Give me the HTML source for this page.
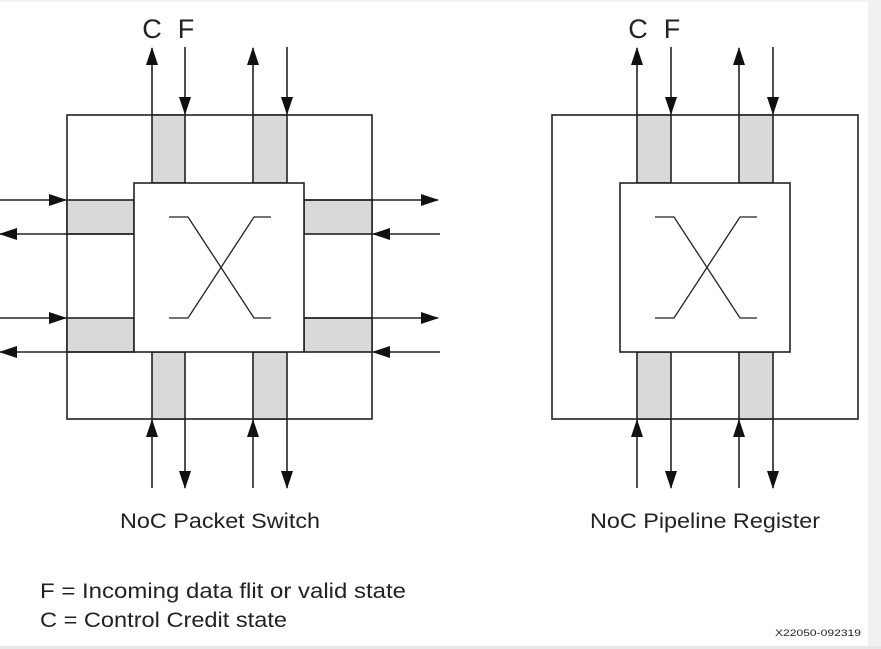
<!DOCTYPE html>
<html><head><meta charset="utf-8"><style>
html,body{margin:0;padding:0;background:#fff;}
body{width:881px;height:649px;overflow:hidden;}
svg{display:block;}
text{font-family:"Liberation Sans",sans-serif;fill:#222;}
</style></head><body>
<svg width="881" height="649" viewBox="0 0 881 649" xmlns="http://www.w3.org/2000/svg">
<defs>
<marker id="a" markerWidth="18" markerHeight="12" refX="17" refY="6" orient="auto" markerUnits="userSpaceOnUse">
<path d="M0,0 L18,6 L0,12 Z" fill="#111"/></marker>
</defs>
<rect x="0" y="0" width="881" height="649" fill="#fff"/>
<rect x="868" y="0" width="13" height="649" fill="#f1f1f1"/>
<rect x="0" y="646" width="881" height="3" fill="#e8e8e8"/>
<rect x="0" y="0" width="881" height="2" fill="#f1f1f1"/>

<g stroke="#222" stroke-width="1.6" fill="none">
<rect x="67" y="115" width="305" height="304"/>
<g fill="#d9d9d9">
<rect x="152" y="115" width="33" height="68"/>
<rect x="253" y="115" width="34" height="68"/>
<rect x="152" y="352" width="33" height="67"/>
<rect x="253" y="352" width="34" height="67"/>
<rect x="67" y="200" width="67" height="34"/>
<rect x="67" y="318" width="67" height="34"/>
<rect x="304" y="200" width="68" height="34"/>
<rect x="304" y="318" width="68" height="34"/>
</g>
<rect x="134" y="183" width="170" height="169" fill="#fff"/>
<polyline points="169,217 188,217 254,318 271,318" stroke-width="1.3"/>
<polyline points="169,318 188,318 254,217 271,217" stroke-width="1.3"/>
<line x1="152" y1="115" x2="152" y2="48" marker-end="url(#a)"/>
<line x1="185" y1="47" x2="185" y2="114" marker-end="url(#a)"/>
<line x1="253" y1="115" x2="253" y2="48" marker-end="url(#a)"/>
<line x1="287" y1="47" x2="287" y2="114" marker-end="url(#a)"/>
<line x1="152" y1="488" x2="152" y2="420" marker-end="url(#a)"/>
<line x1="185" y1="419" x2="185" y2="488" marker-end="url(#a)"/>
<line x1="253" y1="488" x2="253" y2="420" marker-end="url(#a)"/>
<line x1="287" y1="419" x2="287" y2="488" marker-end="url(#a)"/>
<line x1="0" y1="200" x2="66" y2="200" marker-end="url(#a)"/>
<line x1="134" y1="234" x2="0" y2="234" marker-end="url(#a)"/>
<line x1="0" y1="318" x2="66" y2="318" marker-end="url(#a)"/>
<line x1="134" y1="352" x2="0" y2="352" marker-end="url(#a)"/>
<line x1="304" y1="200" x2="438" y2="200" marker-end="url(#a)"/>
<line x1="440" y1="234" x2="373" y2="234" marker-end="url(#a)"/>
<line x1="304" y1="318" x2="438" y2="318" marker-end="url(#a)"/>
<line x1="440" y1="352" x2="373" y2="352" marker-end="url(#a)"/>

<rect x="552" y="115" width="306" height="304"/>
<g fill="#d9d9d9">
<rect x="637" y="115" width="34" height="68"/>
<rect x="739" y="115" width="34" height="68"/>
<rect x="637" y="352" width="34" height="67"/>
<rect x="739" y="352" width="34" height="67"/>
</g>
<rect x="620" y="183" width="170" height="169" fill="#fff"/>
<polyline points="655,217 674,217 740,318 757,318" stroke-width="1.3"/>
<polyline points="655,318 674,318 740,217 757,217" stroke-width="1.3"/>
<line x1="637" y1="115" x2="637" y2="48" marker-end="url(#a)"/>
<line x1="671" y1="47" x2="671" y2="114" marker-end="url(#a)"/>
<line x1="739" y1="115" x2="739" y2="48" marker-end="url(#a)"/>
<line x1="773" y1="47" x2="773" y2="114" marker-end="url(#a)"/>
<line x1="637" y1="488" x2="637" y2="420" marker-end="url(#a)"/>
<line x1="671" y1="419" x2="671" y2="488" marker-end="url(#a)"/>
<line x1="739" y1="488" x2="739" y2="420" marker-end="url(#a)"/>
<line x1="773" y1="419" x2="773" y2="488" marker-end="url(#a)"/>
</g>

<text x="152" y="38" font-size="27" text-anchor="middle">C</text>
<text x="186" y="38" font-size="27" text-anchor="middle">F</text>
<text x="638" y="38" font-size="27" text-anchor="middle">C</text>
<text x="672" y="38" font-size="27" text-anchor="middle">F</text>
<text x="120" y="528" font-size="21" textLength="200" lengthAdjust="spacingAndGlyphs">NoC Packet Switch</text>
<text x="590" y="528" font-size="21" textLength="230" lengthAdjust="spacingAndGlyphs">NoC Pipeline Register</text>
<text x="40" y="598" font-size="21" textLength="366" lengthAdjust="spacingAndGlyphs">F = Incoming data flit or valid state</text>
<text x="40" y="627" font-size="21" textLength="247" lengthAdjust="spacingAndGlyphs">C = Control Credit state</text>
<text x="775" y="636" font-size="9" textLength="86" lengthAdjust="spacingAndGlyphs">X22050-092319</text>
</svg>
</body></html>
